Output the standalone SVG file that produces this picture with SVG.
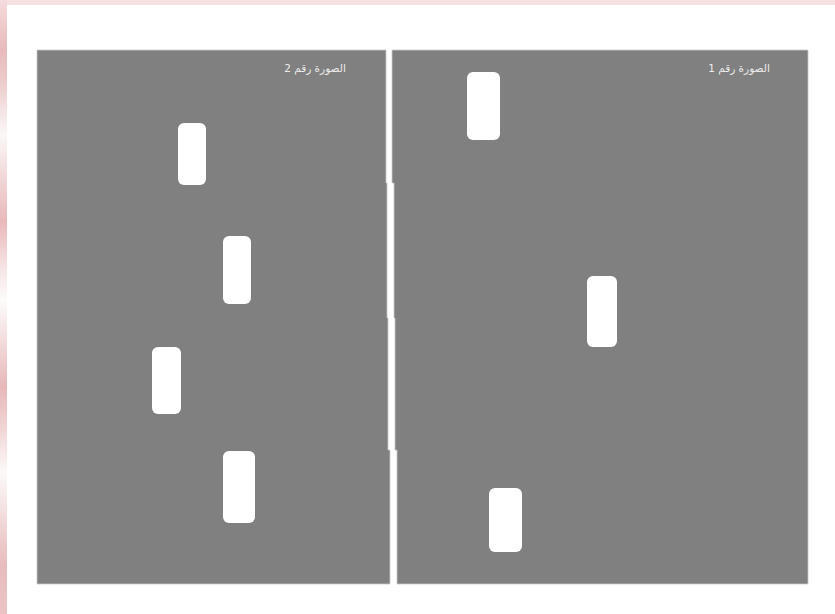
<svg xmlns="http://www.w3.org/2000/svg" width="835" height="614" viewBox="0 0 835 614">
<defs>
<linearGradient id="pink" x1="0" y1="0" x2="0" y2="1">
<stop offset="0" stop-color="#f5dcdd"/>
<stop offset="0.08" stop-color="#e8b9ba"/>
<stop offset="0.13" stop-color="#eccaca"/>
<stop offset="0.22" stop-color="#fbf7f7"/>
<stop offset="0.28" stop-color="#f3dcdc"/>
<stop offset="0.36" stop-color="#e8b8b9"/>
<stop offset="0.44" stop-color="#f6e6e6"/>
<stop offset="0.49" stop-color="#fdfbfb"/>
<stop offset="0.56" stop-color="#f2d9da"/>
<stop offset="0.63" stop-color="#e7b7b8"/>
<stop offset="0.70" stop-color="#f1d6d6"/>
<stop offset="0.77" stop-color="#fcf9f9"/>
<stop offset="0.84" stop-color="#f3dcdc"/>
<stop offset="0.92" stop-color="#e8bbbc"/>
<stop offset="1" stop-color="#ebc2c3"/>
</linearGradient>
<style>
.panel{fill:#808080;stroke:#c8c8c8;stroke-width:0.8}
.car{fill:#ffffff}
.lbl{font-family:"DejaVu Sans","Noto Sans",sans-serif;font-size:10.5px;fill:#ececec;text-anchor:middle}
</style>
</defs>
<rect x="0" y="0" width="835" height="614" fill="#ffffff"/>
<rect x="0" y="0" width="835" height="5" fill="#f6e0e1"/>
<rect x="0" y="0" width="7" height="614" fill="url(#pink)"/>
<g id="panel-2">
<path class="panel" d="M37,50 H386 V183 H387 V318 H388 V450 H390 V584 H37 Z"/>
<text class="lbl" x="315" y="72" direction="rtl">الصورة رقم 2</text>
</g>
<g id="panel-1">
<path class="panel" d="M392,50 H808 V584 H397 V450 H395 V318 H394 V183 H392 Z"/>
<text class="lbl" x="739" y="72" direction="rtl">الصورة رقم 1</text>
</g>
<g id="cars-2">
<rect id="car-2a" class="car" x="178" y="123" width="28" height="62" rx="6"/>
<rect id="car-2b" class="car" x="223" y="236" width="28" height="68" rx="6"/>
<rect id="car-2c" class="car" x="152" y="347" width="29" height="67" rx="6"/>
<rect id="car-2d" class="car" x="223" y="451" width="32" height="72" rx="6"/>
</g>
<g id="cars-1">
<rect id="car-1a" class="car" x="467" y="72" width="33" height="68" rx="6"/>
<rect id="car-1b" class="car" x="587" y="276" width="30" height="71" rx="6"/>
<rect id="car-1c" class="car" x="489" y="488" width="33" height="64" rx="6"/>
</g>
<g id="connectors"></g>
</svg>
